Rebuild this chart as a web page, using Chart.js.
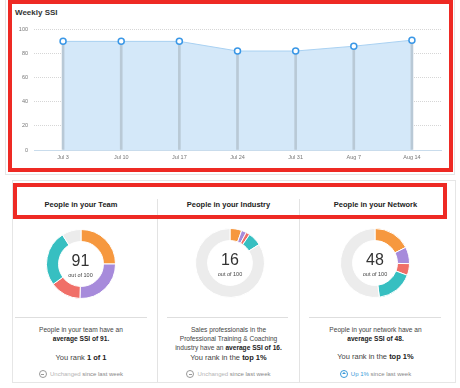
<!DOCTYPE html>
<html>
<head>
<meta charset="utf-8">
<script src="https://cdn.jsdelivr.net/npm/chart.js@4.4.1/dist/chart.umd.min.js"></script>
<style>
  html, body { margin:0; padding:0; background:#fff; }
  body { width:460px; height:388px; position:relative; overflow:hidden; font-family:"Liberation Sans", Arial, Helvetica, sans-serif; color:#444; }
  .abs { position:absolute; }
  .redbox { position:absolute; border:4px solid #ee2a24; box-sizing:border-box; }
  .card { position:absolute; border:1px solid #e6e6e6; box-sizing:border-box; }
  .title { left:15px; top:8px; font-size:8px; font-weight:bold; color:#333; }
  .head { position:absolute; width:140px; text-align:center; font-size:7.5px; font-weight:bold; color:#222; top:200px; }
  .vdiv { position:absolute; width:1px; background:#e3e3e3; top:199px; height:183px; }
  .hdiv { position:absolute; height:1px; background:#dedede; top:317px; }
  .col { position:absolute; width:150px; text-align:center; }
  .desc { font-size:6.6px; line-height:9px; color:#444; top:324.5px; }
  .desc b { color:#222; }
  .rank { font-size:7.5px; line-height:10px; color:#444; }
  .rank b { color:#222; }
  .chg { font-size:6px; line-height:8px; color:#888; top:370px; }
  .chg .lt { color:#b5b5b5; }
  .chg .up { color:#3a9ad9; }
  .ic { display:inline-block; width:6px; height:6px; border:1px solid #999; border-radius:50%; position:relative; vertical-align:-2px; margin-right:3px; }
  .ic.minus::after { content:""; position:absolute; left:1.5px; top:2.6px; width:3px; height:0.9px; background:#999; }
  .ic.upc { border-color:#3a9ad9; }
  .ic.upc::after { content:""; position:absolute; left:1px; top:1.3px; width:0; height:0; border-left:2px solid transparent; border-right:2px solid transparent; border-bottom:2.6px solid #3a9ad9; }
  .center { position:absolute; width:70px; text-align:center; }
  .big { font-size:16px; line-height:16px; color:#333; }
  .small { font-size:5.5px; line-height:6px; color:#444; }
</style>
</head>
<body>
<div class="card" style="left:5px; top:-2px; width:450px; height:177px;"></div>
<div class="card" style="left:12px; top:180px; width:444px; height:203px;"></div>

<div class="abs title">Weekly SSI</div>
<canvas id="line" class="abs" width="436" height="146" style="left:12px; top:20px;"></canvas>

<div class="vdiv" style="left:157px;"></div>
<div class="vdiv" style="left:299px;"></div>

<div class="head" style="left:11px;">People in your Team</div>
<div class="head" style="left:158.5px;">People in your Industry</div>
<div class="head" style="left:305.5px;">People in your Network</div>

<canvas id="d1" class="abs" width="70" height="70" style="left:45.5px; top:229px;"></canvas>
<canvas id="d2" class="abs" width="70" height="70" style="left:195px; top:228px;"></canvas>
<canvas id="d3" class="abs" width="70" height="70" style="left:340px; top:228px;"></canvas>

<div class="center" style="left:45.5px; top:253px;"><div class="big" id="s1"></div><div class="small" style="margin-top:3px;">out of 100</div></div>
<div class="center" style="left:195px; top:252px;"><div class="big" id="s2"></div><div class="small" style="margin-top:3px;">out of 100</div></div>
<div class="center" style="left:340px; top:252px;"><div class="big" id="s3"></div><div class="small" style="margin-top:3px;">out of 100</div></div>

<div class="hdiv" style="left:15px; width:132px;"></div>
<div class="hdiv" style="left:167px; width:121px;"></div>
<div class="hdiv" style="left:309px; width:132px;"></div>

<div class="col desc" style="left:6px;">People in your team have an<br><b>average SSI of 91.</b></div>
<div class="col rank" style="left:6px; top:353px;">You rank <b>1 of 1</b></div>
<div class="col chg" style="left:6px;"><span class="ic minus"></span><span class="lt">Unchanged</span> since last week</div>

<div class="col desc" style="left:153.5px;">Sales professionals in the<br>Professional Training &amp; Coaching<br>industry have an <b>average SSI of 16.</b></div>
<div class="col rank" style="left:153.5px; top:352.5px;">You rank in the <b>top 1%</b></div>
<div class="col chg" style="left:153.5px;"><span class="ic minus"></span><span class="lt">Unchanged</span> since last week</div>

<div class="col desc" style="left:300.5px;">People in your network have an<br><b>average SSI of 48.</b></div>
<div class="col rank" style="left:300.5px; top:352px;">You rank in the <b>top 1%</b></div>
<div class="col chg" style="left:300.5px;"><span class="ic upc"></span><span class="up">Up 1%</span> since last week</div>

<div class="redbox" style="left:8px; top:0px; width:445px; height:172px;"></div>
<div class="redbox" style="left:13px; top:183px; width:434px; height:36px;"></div>

<script>
// ---- data ----
const weeks = ['Jul 3', 'Jul 10', 'Jul 17', 'Jul 24', 'Jul 31', 'Aug 7', 'Aug 14'];
const weeklySSI = [90, 90, 90, 82, 82, 86, 91];
const yTickStep = 20;
const yMax = 100;

const pillarLabels = ['Brand', 'People', 'Insights', 'Relationships', 'Remaining'];
const pillarColors = ['#f6983f', '#a78bdb', '#f06f68', '#37bfc1', '#ececec'];
const teamParts = [25, 25.5, 14.5, 26, 9];
const industryParts = [5.5, 2.3, 1.8, 6.4, 84];
const networkParts = [17.5, 7.8, 5.5, 17.2, 52];
const scores = [91, 16, 48];

// ---- weekly line ----
new Chart(document.getElementById('line'), {
  type: 'line',
  data: {
    labels: weeks,
    datasets: [
      { type: 'line', data: weeklySSI, borderColor: '#a9d1f2', backgroundColor: '#d4e8f9', fill: 'origin',
        borderWidth: 1, pointRadius: 0, tension: 0, order: 3 },
      { type: 'bar', data: weeklySSI, backgroundColor: '#b9c9d6', barThickness: 2, order: 2 },
      { type: 'line', data: weeklySSI, showLine: false, pointRadius: 3, pointBorderWidth: 1.5,
        pointBorderColor: '#3a97e6', pointBackgroundColor: '#ffffff', order: 1 }
    ]
  },
  options: {
    responsive: false, animation: false, devicePixelRatio: 1,
    layout: { padding: { top: 6, right: 7, left: 0, bottom: 0 } },
    plugins: { legend: { display: false }, tooltip: { enabled: false } },
    scales: {
      x: {
        offset: true,
        grid: { display: false, drawTicks: false },
        border: { color: '#c9dcec', width: 1 },
        ticks: { color: '#777', font: { size: 5.5, family: 'Liberation Sans' }, padding: 4, maxRotation: 0 },
        afterFit(s) { s.height = 16; }
      },
      y: {
        min: 0, max: yMax,
        ticks: { stepSize: yTickStep, color: '#777', font: { size: 5.5, family: 'Liberation Sans' }, padding: 6 },
        grid: { color: '#d6d6d6', drawTicks: false, lineWidth: 1 },
        border: { display: false, dash: [1, 1] },
        afterFit(s) { s.width = 22; }
      }
    }
  }
});

// ---- doughnuts ----
function ring(id, parts) {
  new Chart(document.getElementById(id), {
    type: 'doughnut',
    data: { labels: pillarLabels, datasets: [{ data: parts, backgroundColor: pillarColors, borderColor: '#ffffff', borderWidth: 1 }] },
    options: {
      responsive: false, animation: false, devicePixelRatio: 1, cutout: '65%',
      plugins: { legend: { display: false }, tooltip: { enabled: false } }
    }
  });
}
ring('d1', teamParts);
ring('d2', industryParts);
ring('d3', networkParts);
document.getElementById('s1').textContent = scores[0];
document.getElementById('s2').textContent = scores[1];
document.getElementById('s3').textContent = scores[2];
</script>
</body>
</html>
